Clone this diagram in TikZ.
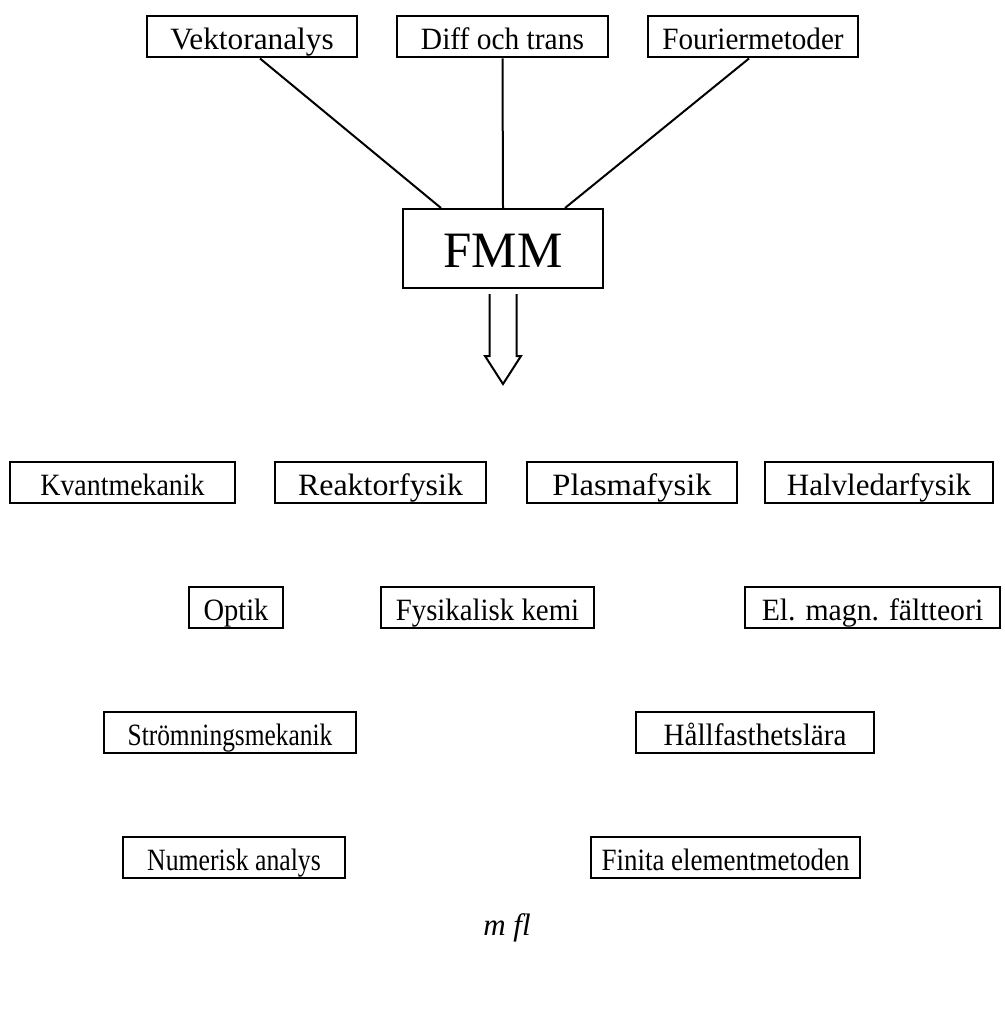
\documentclass[tikz,border=0pt]{standalone}
\usepackage{fontspec}
\usepackage{graphicx}
\setmainfont{Liberation Serif}
\newcommand{\hsc}[2]{\scalebox{#1}[1]{#2}}
\begin{document}
\begin{tikzpicture}[x=1pt,y=-1pt,
  box/.style={draw,line width=2pt,minimum height=41pt,inner sep=0pt,
    text height=26pt,text depth=1pt,
    font=\fontsize{31}{36}\selectfont},
  link/.style={line width=2pt}]
\useasboundingbox (0,0) rectangle (1004,1011);
% top
\node[box,minimum width=210pt] (vek) at (252,37) {\hsc{1.01}{Vektoranalys}};
\node[box,minimum width=211pt] (dif) at (502.5,37) {\hsc{0.95}{Diff och trans}};
\node[box,minimum width=210pt] (fou) at (753,37) {\hsc{0.94}{Fouriermetoder}};
\node[box,minimum width=200pt,minimum height=79pt,text height=37pt,text depth=0pt,
  font=\fontsize{51}{60}\selectfont] (fmm) at (503,248.5) {FMM};
\draw[link] ([xshift=8pt]vek.south) -- ([xshift=-62pt]fmm.north);
\draw[link] (dif.south) -- (fmm.north);
\draw[link] ([xshift=-4pt]fou.south) -- ([xshift=62pt]fmm.north);
% hollow arrow
\coordinate (at) at ([yshift=-5pt]fmm.south);
\coordinate (tip) at ([yshift=-95pt]fmm.south);
\draw[line width=2pt,line join=miter]
  ([xshift=-13.5pt]at) -- ([xshift=-13.5pt,yshift=28pt]tip) -- ([xshift=-18pt,yshift=28pt]tip)
  -- (tip) -- ([xshift=18pt,yshift=28pt]tip) -- ([xshift=13.5pt,yshift=28pt]tip) -- ([xshift=13.5pt]at);
% row 1
\node[box,minimum width=225pt] (kva) at (122.5,482.5) {\hsc{0.9}{Kvantmekanik}};
\node[box,minimum width=211pt] (rea) at (380.5,482.5) {\hsc{1.03}{Reaktorfysik}};
\node[box,minimum width=210pt] (pla) at (632,482.5) {\hsc{1.05}{Plasmafysik}};
\node[box,minimum width=228pt] (hal) at (879,482.5) {\hsc{1.0}{Halvledarfysik}};
% row 2
\node[box,minimum width=94pt] (opt) at (236,607.5) {\hsc{0.92}{Optik}};
\node[box,minimum width=213pt] (fys) at (487.5,607.5) {\hsc{0.93}{Fysikalisk kemi}};
\node[box,minimum width=255pt] (elm) at (872.5,607.5) {\hsc{0.96}{El. magn. fältteori}};
% row 3
\node[box,minimum width=252pt] (str) at (230,732.5) {\hsc{0.82}{Strömningsmekanik}};
\node[box,minimum width=238pt] (hll) at (755,732.5) {\hsc{0.94}{Hållfasthetslära}};
% row 4
\node[box,minimum width=222pt] (num) at (234,857.5) {\hsc{0.83}{Numerisk analys}};
\node[box,minimum width=269pt] (fin) at (725.5,857.5) {\hsc{0.87}{Finita elementmetoden}};
\node[font=\fontsize{31}{36}\selectfont\itshape] (mfl) at (507,928) {m fl};
\end{tikzpicture}
\end{document}
